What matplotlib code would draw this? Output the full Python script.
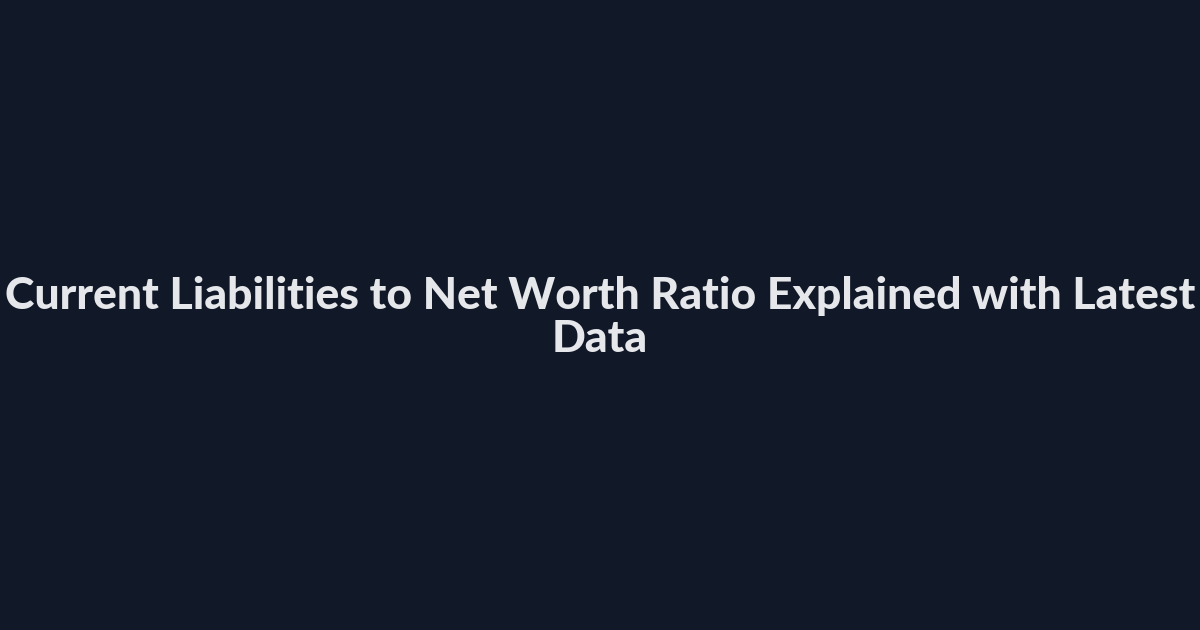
import matplotlib
matplotlib.use("Agg")
import matplotlib.pyplot as plt

title_lines = ["Current Liabilities to Net Worth Ratio Explained with Latest", "Data"]
bg_color = "#111827"
text_color = "#e5e7eb"

W, H, DPI = 1200, 630, 100
fig = plt.figure(figsize=(W / DPI, H / DPI), dpi=DPI, facecolor=bg_color)
ax = fig.add_axes([0, 0, 1, 1])
ax.set_facecolor(bg_color)
ax.set_xlim(0, W)
ax.set_ylim(H, 0)
ax.axis("off")

target_width = 1190
size = 28
t = ax.text(W / 2, 296, title_lines[0], ha="center", va="center",
            color=text_color, fontsize=size, fontweight=900, family="Lato")
fig.canvas.draw()
r = fig.canvas.get_renderer()
w = t.get_window_extent(r).width
size = size * target_width / w
t.set_fontsize(size)
ax.text(W / 2, 339, title_lines[1], ha="center", va="center",
        color=text_color, fontsize=size, fontweight=900, family="Lato")

fig.savefig("out.png", dpi=DPI, facecolor=bg_color)
